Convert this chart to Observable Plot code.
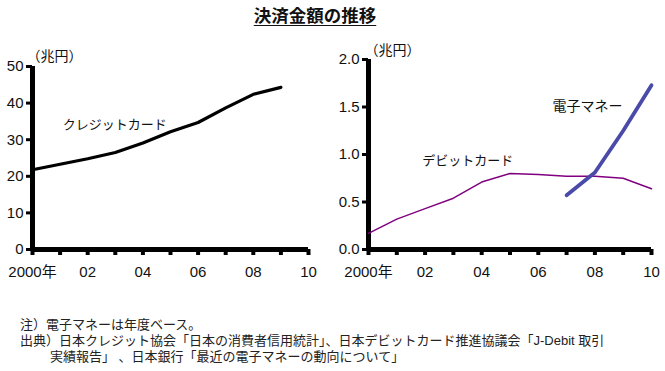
<!DOCTYPE html>
<html><head><meta charset="utf-8">
<script src="https://cdn.jsdelivr.net/npm/d3@7"></script>
<script src="https://cdn.jsdelivr.net/npm/@observablehq/plot@0.6"></script>
<style>
body{margin:0;background:#fff;font-family:"Liberation Sans","Noto Sans CJK JP",sans-serif;}
#wrap{position:relative;width:665px;height:371px;overflow:hidden;}
#title{position:absolute;left:0;width:630px;top:2px;text-align:center;font-size:17.5px;font-weight:bold;color:#111;font-family:"Noto Sans CJK JP",sans-serif;}
#title span{text-decoration:underline;text-underline-offset:3px;}
.p{position:absolute;top:40px;}
#left{left:0;} #right{left:330px;}
.note{position:absolute;font-family:"Liberation Sans","Noto Sans CJK JP",sans-serif;font-size:13px;color:#222;white-space:nowrap;line-height:16px;}
</style></head><body>
<div id="wrap">
<div id="title"><span>決済金額の推移</span></div>
<div class="p" id="left"></div>
<div class="p" id="right"></div>
<div class="note" style="left:20px;top:317px">注）電子マネーは年度ベース。</div>
<div class="note" style="left:20px;top:333px">出典）日本クレジット協会「日本の消費者信用統計」、日本デビットカード推進協議会「J-Debit 取引</div>
<div class="note" style="left:50px;top:349px">実績報告」 、日本銀行「最近の電子マネーの動向について」</div>
</div>
<script>
const years = [2000,2001,2002,2003,2004,2005,2006,2007,2008,2009,2010];
const creditYears = [2000,2001,2002,2003,2004,2005,2006,2007,2008,2009];
const creditValues = [21.8,23.3,24.8,26.5,29.1,32.2,34.7,38.7,42.4,44.3];
const debitYears = years;
const debitValues = [0.17,0.32,0.43,0.54,0.71,0.80,0.79,0.77,0.77,0.75,0.64];
const emoneyYears = [2007,2008,2009,2010];
const emoneyValues = [0.57,0.81,1.25,1.73];
const leftYTicks = [0,10,20,30,40,50];
const rightYTicks = [0,0.5,1.0,1.5,2.0];
const xTickLabels = {2000:"2000年",2002:"02",2004:"04",2006:"06",2008:"08",2010:"10"};
const unitLabel = "（兆円）";

const credit = creditYears.map((x,i)=>({x, y:creditValues[i]}));
const debit = debitYears.map((x,i)=>({x, y:debitValues[i]}));
const emoney = emoneyYears.map((x,i)=>({x, y:emoneyValues[i]}));

const fontStyle = {fontSize:"15px", fontFamily:'"Liberation Sans","Noto Sans CJK JP",sans-serif', color:"#111", background:"transparent", overflow:"visible"};

function axes(yTicks, yFmt, yMax){
  return [
    Plot.axisX({ticks: years, tickSize: 6, strokeWidth: 4, tickFormat: () => "", stroke:"#000", label: null}),
    Plot.text(years.filter(d => xTickLabels[d]), {x: d => d, y: 0, text: d => xTickLabels[d], dy: 23, fontSize: 15, fill: "#111"}),
    Plot.axisY({ticks: yTicks, tickSize: 6, strokeWidth: 3, tickPadding: 3, tickFormat: yFmt, fontSize: 15, stroke:"#000", label: null}),
    Plot.ruleY([0], {x1: 2000, x2: 2010, stroke: "#000", strokeWidth: 5}),
    Plot.ruleX([2000], {y1: 0, y2: yMax, stroke: "#000", strokeWidth: 5})
  ];
}

const left = Plot.plot({
  width: 330, height: 250,
  marginLeft: 32, marginRight: 22, marginTop: 26, marginBottom: 41,
  style: fontStyle,
  x: {domain: [2000, 2010]},
  y: {domain: [0, 50]},
  marks: [
    ...axes(leftYTicks, d => String(d), 50),
    Plot.line(credit, {x: "x", y: "y", stroke: "#000", strokeWidth: 3.2}),
    Plot.text([unitLabel], {x: 2000, y: 50, text: d => d, dx: -6, dy: -10, textAnchor: "start", fontSize: 14}),
    Plot.text(["クレジットカード"], {x: 2001.1, y: 34, text: d => d, textAnchor: "start", fontSize: 13})
  ]
});

const right = Plot.plot({
  width: 335, height: 250,
  marginLeft: 38, marginRight: 14, marginTop: 19, marginBottom: 41,
  style: fontStyle,
  x: {domain: [2000, 2010]},
  y: {domain: [0, 2]},
  marks: [
    ...axes(rightYTicks, d => d.toFixed(1), 2),
    Plot.line(debit, {x: "x", y: "y", stroke: "#800080", strokeWidth: 1.5}),
    Plot.line(emoney, {x: "x", y: "y", stroke: "#4a4aa8", strokeWidth: 3.8}),
    Plot.text([unitLabel], {x: 2000, y: 2, text: d => d, dx: -4, dy: -9, textAnchor: "start", fontSize: 14}),
    Plot.text(["デビットカード"], {x: 2001.9, y: 0.93, text: d => d, textAnchor: "start", fontSize: 13}),
    Plot.text(["電子マネー"], {x: 2006.5, y: 1.5, text: d => d, textAnchor: "start", fontSize: 14})
  ]
});

document.getElementById("left").appendChild(left);
document.getElementById("right").appendChild(right);
</script>
</body></html>
